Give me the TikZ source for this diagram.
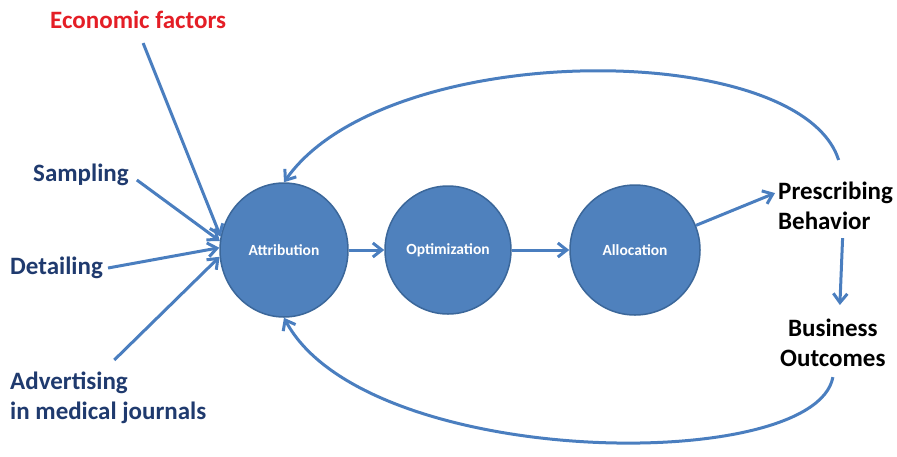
\documentclass[tikz,border=0pt]{standalone}
\usepackage{fontspec}
\setmainfont{Carlito}
\usetikzlibrary{arrows.meta,calc,shapes.geometric}
\definecolor{discfill}{HTML}{4F81BD}
\definecolor{discline}{HTML}{3B679A}
\definecolor{flow}{HTML}{4A7EBF}
\definecolor{navy}{HTML}{1F3A6E}
\definecolor{alert}{HTML}{E41E26}
\tikzset{
  disc/.style={ellipse, draw=discline, line width=1.5pt, fill=discfill, inner sep=0pt,
    text=white, font=\bfseries\fontsize{15.5}{18}\selectfont},
  inlabel/.style={font=\bfseries\fontsize{25}{30}\selectfont, text=navy, inner sep=0pt, align=left},
  outlabel/.style={font=\bfseries\fontsize{25}{30}\selectfont, text=black, inner sep=0pt, align=left},
  arr/.style={draw=flow, line width=3pt, -{Straight Barb[length=9pt,width=14pt,line width=3pt]}}
}
\begin{document}
\begin{tikzpicture}[x=1pt,y=-1pt]
\useasboundingbox (0,0) rectangle (897,456);
% the three process stages
\node[disc, minimum width=128pt, minimum height=134pt] (attr) at (284,250) {Attribution};
\node[disc, minimum width=126pt, minimum height=128pt] (opt) at (448,250) {Optimization};
\node[disc, minimum width=130pt, minimum height=130pt] (alloc) at (635,250) {Allocation};
% inputs
\node[inlabel, text=alert, anchor=west] (econ) at (50,20) {Economic factors};
\node[inlabel, anchor=west] (samp) at (33,175) {Sampling};
\node[inlabel, anchor=west] (det) at (10,268) {Detailing};
\node[inlabel, anchor=north west] (adv) at (10,372) {Advertising\\in medical journals};
% outputs
\node[outlabel, anchor=north west] (presc) at (778,182) {Prescribing\\Behavior};
\node[outlabel, anchor=north west, align=center] (bus) at (780,319) {Business\\Outcomes};
% input arrows
\draw[arr] ($(econ.south)+(5,14)$) -- (attr.168);
\draw[arr] ($(samp.east)+(8,5)$) -- (attr.172);
\draw[arr] ($(det.east)+(5,0)$) -- (attr.178);
\draw[arr] ($(adv.north)+(6,-12)$) -- (attr.186);
% main chain
\draw[arr] (attr.east) -- (opt.west);
\draw[arr] (opt.east) -- (alloc.west);
\draw[arr] (alloc.22) -- ($(presc.west)+(-3,-13)$);
\draw[arr] ($(presc.south)+(7,8)$) -- ($(bus.north)+(7,-14)$);
% feedback loops
\draw[arr] ($(presc.north)+(3,-22)$) .. controls (800,38) and (385,38) .. (attr.north);
\draw[arr] ($(bus.south)+(0,10)$) .. controls (815,475) and (365,470) .. (attr.south);
\end{tikzpicture}
\end{document}
